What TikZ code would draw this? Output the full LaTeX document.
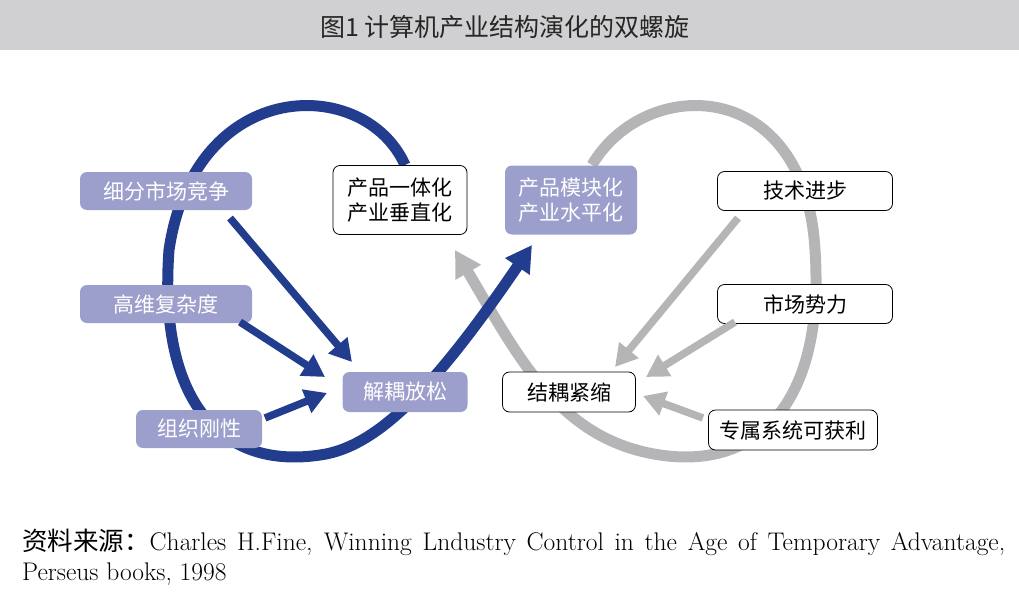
\documentclass[tikz,border=0pt]{standalone}
\usepackage{fontspec}
\newfontfamily\cjk{Noto Sans CJK SC}
\usetikzlibrary{arrows.meta}
\definecolor{lav}{HTML}{9C9ECB}
\definecolor{navy}{HTML}{233D8E}
\definecolor{gr}{HTML}{B5B5B7}
\definecolor{bar}{HTML}{D0D0D2}
\begin{document}
\begin{tikzpicture}[x=1pt,y=-1pt,
  lb/.style={rounded corners=7pt,fill=lav,text=white,font=\cjk\fontsize{21}{25}\selectfont,align=center,inner sep=0pt},
  wb/.style={rounded corners=7pt,draw=black,line width=0.8pt,fill=white,font=\cjk\fontsize{21}{25}\selectfont,align=center,inner sep=0pt},
  barr/.style={navy,line width=7.5pt,-{Triangle[length=22pt,width=24pt]}},
  garr/.style={gr,line width=7.5pt,-{Triangle[length=22pt,width=24pt]}}]
\useasboundingbox (0,0) rectangle (1019,594);
\fill[bar] (0,0) rectangle (1019,50);
\node[text=black!85] (title) at (505,27) {\cjk\fontsize{25}{30}\selectfont 图1 计算机产业结构演化的双螺旋};
% gray loop
\draw[gr,line width=11pt,-{Triangle[length=26pt,width=28pt]}] (592,165) .. controls (645,75) and (805,75) .. (815,250)
  .. controls (825,400) and (760,470) .. (660,455) .. controls (560,440) and (520,360) .. (455,250);
% blue loop
\draw[navy,line width=11pt,-{Triangle[length=26pt,width=28pt]}] (405,165) .. controls (365,75) and (195,75) .. (169,250)
  .. controls (158,400) and (220,470) .. (320,455) .. controls (380,447) and (440,380) .. (532,245);
\node[lb,minimum width=172pt,minimum height=38pt] (a1) at (166,191) {细分市场竞争};
\node[lb,minimum width=172pt,minimum height=38pt] (a2) at (166,304) {高维复杂度};
\node[lb,minimum width=126pt,minimum height=38pt] (a3) at (199,429) {组织刚性};
\node[wb,minimum width=134pt,minimum height=69pt] (v) at (400,200) {产品一体化\\产业垂直化};
\node[lb,minimum width=132pt,minimum height=69pt] (m) at (571,200) {产品模块化\\产业水平化};
\node[lb,minimum width=125pt,minimum height=40pt] (d) at (405,392) {解耦放松};
\node[wb,minimum width=175pt,minimum height=39pt] (b1) at (805,191) {技术进步};
\node[wb,minimum width=175pt,minimum height=39pt] (b2) at (805,304) {市场势力};
\node[wb,minimum width=133pt,minimum height=40pt] (c) at (569,392) {结耦紧缩};
\node[wb,minimum width=169pt,minimum height=40pt] (b3) at (793,430) {专属系统可获利};
\coordinate (p1) at (352,362); \coordinate (p2) at (325,377); \coordinate (p3) at (327,393);
\coordinate (q1) at (615,367); \coordinate (q2) at (646,377); \coordinate (q3) at (643,396);
\draw[barr] (230,218) -- (p1);
\draw[barr] (240,322) -- (p2);
\draw[barr] (265,418) -- (p3);
\draw[garr] (738,218) -- (q1);
\draw[garr] (735,322) -- (q2);
\draw[garr] (703,418) -- (q3);
\node[anchor=north west,text width=983pt,align=justify,inner sep=0pt,font=\fontsize{25.5}{30}\selectfont] (src) at (22,529)
 {{\cjk 资料来源：}Charles H.Fine, Winning Lndustry Control in the Age of Temporary Advantage,\linebreak Perseus books, 1998};
\end{tikzpicture}
\end{document}
